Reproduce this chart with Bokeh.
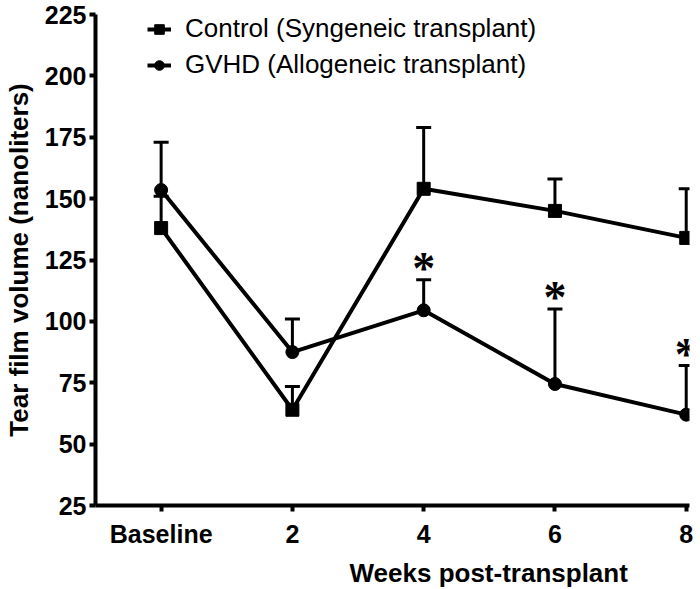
from bokeh.plotting import figure
from bokeh.models import ColumnDataSource, Whisker, TeeHead, FixedTicker, Legend, LegendItem, Title, LabelSet
from bokeh.embed import file_html
from bokeh.resources import INLINE

# ---- data ----
weeks = ["Baseline", "2", "4", "6", "8"]
control_mean = [138, 64, 154, 145, 134]
control_upper = [151, 73.5, 179, 158, 154]
gvhd_mean = [153.5, 87.5, 104.5, 74.5, 62]
gvhd_upper = [173, 101, 117, 105, 82]
gvhd_sig = ["", "", "*", "*", "*"]
y_ticks = [25, 50, 75, 100, 125, 150, 175, 200, 225]

FONT = "Liberation Sans"
idx = list(range(len(weeks)))

p = figure(frame_width=594, frame_height=491,
           x_range=(-0.5, 4.025), y_range=(25, 225),
           output_backend="svg", toolbar_location=None,
           min_border_left=88, min_border_top=14, min_border_right=8, min_border_bottom=76)
p.xgrid.visible = False
p.ygrid.visible = False
p.outline_line_color = None
p.background_fill_color = "white"

for ax in (p.xaxis[0], p.yaxis[0]):
    ax.axis_line_width = 4
    ax.axis_line_color = "black"
    ax.major_tick_line_width = 4
    ax.major_tick_line_color = "black"
    ax.major_tick_out = 6
    ax.major_tick_in = 0
    ax.minor_tick_out = 0
    ax.minor_tick_in = 0
    ax.major_label_text_font = FONT
    ax.major_label_text_font_style = "bold"
    ax.major_label_text_font_size = "25px"
    ax.major_label_text_color = "black"

p.xaxis.ticker = FixedTicker(ticks=idx)
p.xaxis.major_label_overrides = {i: w for i, w in zip(idx, weeks)}
p.xaxis.major_label_standoff = 8
p.yaxis.ticker = FixedTicker(ticks=y_ticks)
p.yaxis.major_label_standoff = 3

p.yaxis.axis_label = "Tear film volume (nanoliters)"
p.yaxis.axis_label_text_font = FONT
p.yaxis.axis_label_text_font_style = "bold"
p.yaxis.axis_label_text_font_size = "26px"
p.yaxis.axis_label_text_color = "black"
p.yaxis.axis_label_standoff = 8

xt = Title(text="Weeks post-transplant", align="left", offset=254,
           text_font=FONT, text_font_style="bold", text_font_size="26px",
           text_color="black", standoff=10)
p.add_layout(xt, "below")

# error bars (upper only)
src_c = ColumnDataSource(dict(x=idx, lo=control_mean, hi=control_upper))
src_g = ColumnDataSource(dict(x=idx, lo=gvhd_mean, hi=gvhd_upper, sig=gvhd_sig))
for src in (src_c, src_g):
    w = Whisker(base="x", lower="lo", upper="hi", source=src, dimension="height",
                line_width=3, line_color="black", lower_head=None,
                upper_head=TeeHead(size=15, line_width=3, line_color="black"),
                level="underlay")
    p.add_layout(w)

lc = p.line(idx, control_mean, line_width=4, line_color="black")
sc = p.scatter(idx, control_mean, marker="square", size=13, fill_color="black", line_color="black")
lg = p.line(idx, gvhd_mean, line_width=4, line_color="black")
sg = p.scatter(idx, gvhd_mean, marker="circle", size=13, fill_color="black", line_color="black")

stars = LabelSet(x="x", y="hi", text="sig", source=src_g, x_offset=0, y_offset=-4,
                 text_font=FONT, text_font_style="bold", text_font_size="46px",
                 text_align="center", text_baseline="alphabetic", text_color="black",
                 level="overlay")
p.add_layout(stars)

legend = Legend(items=[LegendItem(label="Control (Syngeneic transplant)", renderers=[lc, sc]),
                       LegendItem(label="GVHD (Allogeneic transplant)", renderers=[lg, sg])],
                location=(52, 425), padding=0, margin=0, spacing=5,
                glyph_width=24, glyph_height=30, label_height=30, label_standoff=14,
                label_text_font=FONT, label_text_font_size="26px", label_text_color="black",
                border_line_alpha=0, background_fill_alpha=0)
p.add_layout(legend, "center")

open("out.html", "w").write(file_html(p, INLINE))
